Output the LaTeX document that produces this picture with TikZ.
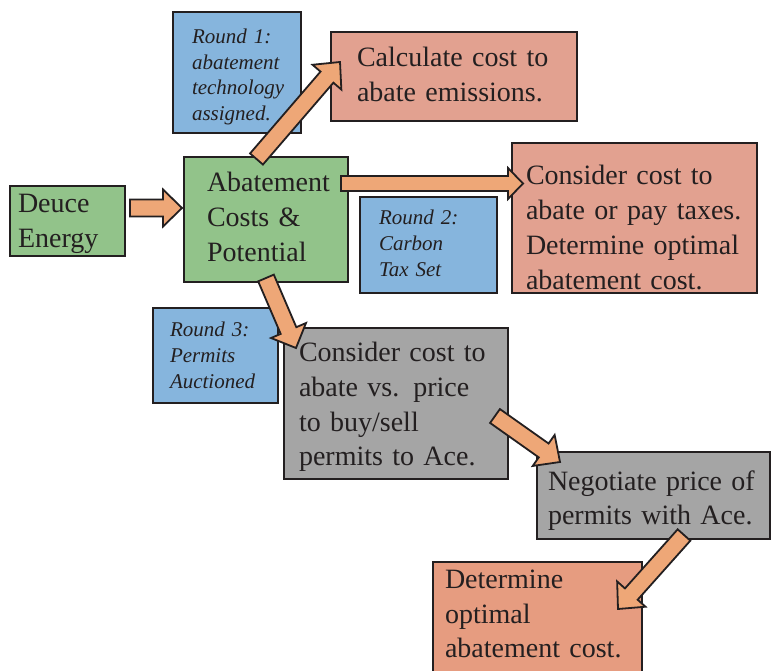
\documentclass[tikz,border=0pt]{standalone}
\usepackage{fontspec}
\setmainfont{Liberation Serif}
\usetikzlibrary{calc}

\definecolor{edge}{HTML}{231F20}
\definecolor{boxgreen}{HTML}{92C38A}
\definecolor{roundblue}{HTML}{86B5DD}
\definecolor{salmon}{HTML}{E2A190}
\definecolor{salmondeep}{HTML}{E69C80}
\definecolor{boxgray}{HTML}{A5A5A5}
\definecolor{arrowfill}{HTML}{EEA777}

% Block arrow from #1 (tail) to #2 (tip):
% #3 half shaft width, #4 half head width, #5 head length
\newcommand\fatarrow[5]{%
  \coordinate (fa-q) at ($(#2)!#5!(#1)$);
  \draw[fat] ($(#1)!#3!90:(#2)$) -- ($(fa-q)!#3!-90:(#1)$) -- ($(fa-q)!#4!-90:(#1)$)
    -- (#2) -- ($(fa-q)!#4!90:(#1)$) -- ($(fa-q)!#3!90:(#1)$)
    -- ($(#1)!#3!-90:(#2)$) -- cycle;}

\begin{document}
\begin{tikzpicture}[x=1pt, y=-1pt,
  box/.style={draw=edge, line width=2pt, anchor=north west, outer sep=0pt,
    inner ysep=0pt, align=left, text=edge,
    font=\fontsize{28}{34.7}\selectfont},
  roundbox/.style={box, fill=roundblue,
    font=\fontsize{21}{25.8}\selectfont\itshape},
  fat/.style={draw=edge, fill=arrowfill, line width=1.8pt, line join=miter}]

\useasboundingbox (0,0) rectangle (771,671);
\clip (0,0) rectangle (771,671);

% boxes
\node[box, fill=boxgreen, inner xsep=8pt, text width=99pt,
  text height=27pt, text depth=43pt] (deuce) at (10,186) {Deuce\\Energy};
\node[box, fill=boxgreen, inner xsep=23pt, text width=118pt,
  text height=34.7pt, text depth=90.3pt] (abate) at (184,157)
  {Abatement\\Costs \&\\Potential};
\node[roundbox, inner xsep=19pt, text width=90pt,
  text height=31.3pt, text depth=89.7pt] (rone) at (173,12)
  {Round 1:\\abatement\\technology\\assigned.};
\node[box, fill=salmon, inner xsep=26pt, text width=194pt,
  text height=34.7pt, text depth=54.3pt] (calc) at (331,32)
  {Calculate cost to\\abate emissions.};
\node[roundbox, inner xsep=19pt, text width=99pt,
  text height=28pt, text depth=68pt] (rtwo) at (360,197)
  {Round 2:\\Carbon\\Tax Set};
\node[box, fill=salmon, inner xsep=14pt, text width=217pt,
  text height=42pt, text depth=108pt] (tax) at (512,143)
  {Consider cost to\\abate or pay taxes.\\Determine optimal\\abatement cost.};
\node[roundbox, inner xsep=17pt, text width=91pt,
  text height=28.7pt, text depth=66.3pt] (rthree) at (153,308)
  {Round 3:\\Permits\\Auctioned};
\node[box, fill=boxgray, inner xsep=15pt, text width=194pt,
  text height=33.7pt, text depth=117.3pt] (permit) at (284,328)
  {Consider cost to\\abate vs. price\\to buy/sell\\permits to Ace.};
\node[box, fill=boxgray, inner xsep=11pt, text width=211pt,
  text height=38pt, text depth=49pt] (nego) at (537,452)
  {Negotiate price of\\permits with Ace.};
\node[box, fill=salmondeep, inner xsep=12pt, text width=185pt,
  text height=26.3pt, text depth=112pt] (det) at (433,562)
  {Determine\\optimal\\abatement cost.};

% arrow end points
\coordinate (a1s) at ($(deuce.north east)+(5,22)$);
\coordinate (a1e) at ($(abate.north west)+(-2,51)$);
\coordinate (a2s) at ($(abate.north east)+(-7,26.5)$);
\coordinate (a2e) at ($(tax.north west)+(11,40.5)$);
\coordinate (a3s) at ($(abate.north west)+(72.5,2)$);
\coordinate (a3e) at ($(calc.north west)+(9,30)$);
\coordinate (a4s) at ($(abate.south west)+(82,-4)$);
\coordinate (a4e) at ($(permit.north west)+(12,20)$);
\coordinate (a5s) at ($(permit.north east)+(-13,88)$);
\coordinate (a5e) at ($(nego.north west)+(23,10)$);
\coordinate (a6s) at ($(nego.south west)+(147,-4)$);
\coordinate (a6e) at ($(det.north west)+(185,47)$);

% block arrows
\fatarrow{a1s}{a1e}{8.5pt}{18.5pt}{19pt}
\fatarrow{a2s}{a2e}{7.5pt}{15.5pt}{15pt}
\fatarrow{a3s}{a3e}{8.5pt}{19pt}{20pt}
\fatarrow{a4s}{a4e}{8.5pt}{19pt}{19pt}
\fatarrow{a5s}{a5e}{8.5pt}{19pt}{20pt}
\fatarrow{a6s}{a6e}{8.5pt}{19pt}{20pt}
\end{tikzpicture}
\end{document}
